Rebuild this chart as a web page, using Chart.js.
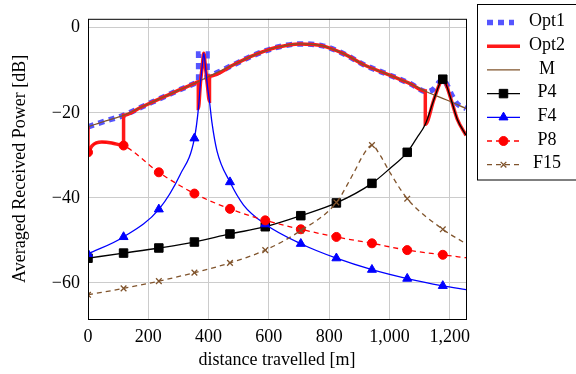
<!DOCTYPE html>
<html lang="en">
<head>
<meta charset="UTF-8">
<title>Averaged received power</title>
<script src="https://cdn.jsdelivr.net/npm/chart.js@4.4.1/dist/chart.umd.min.js"></script>
<style>
  body { margin: 0; background: #fff; }
</style>
</head>
<body>
<canvas id="myChart" width="576" height="374"></canvas>
<script>
// tick labels and marker positions
const X_TICKS = [0, 200, 400, 600, 800, 1000, 1200];
const Y_TICKS = [-60, -40, -20, 0];
const MARKER_D = [0, 118, 235, 353, 471, 588, 706, 824, 942, 1059, 1177];

// Opt1 - optimum (dotted)
const OPT1_D  = [0, 59, 118, 176, 235, 294, 353, 367, 367, 395, 395, 406, 483, 549, 627, 704, 775, 848, 915, 992, 1070, 1125, 1147, 1165, 1177, 1190, 1208, 1225, 1254];
const OPT1_DB = [-23.3, -21.9, -20.6, -18.7, -16.8, -14.9, -13.1, -12.6, -6.2, -6.2, -11.6, -11.3, -8.7, -6.5, -4.6, -3.8, -4.2, -6.1, -8.7, -10.9, -13.2, -15.1, -14.4, -12.8, -12.1, -13.3, -16.0, -17.9, -19.0];

// Opt2
const OPT2_D  = [0, 0, 13, 46, 79, 118, 118, 176, 235, 294, 353, 366, 366, 373, 379, 384, 390, 396, 403, 403, 483, 549, 627, 704, 775, 848, 915, 992, 1070, 1119, 1119, 1147, 1169, 1177, 1185, 1205, 1225, 1254];
const OPT2_DB = [-23.3, -29.3, -27.8, -26.9, -27.1, -27.7, -20.6, -18.7, -16.8, -14.9, -13.1, -12.7, -19.0, -13.0, -9.0, -6.0, -9.5, -13.5, -17.3, -11.4, -8.7, -6.5, -4.6, -3.8, -4.2, -6.1, -8.7, -10.9, -13.2, -14.9, -22.7, -17.0, -12.8, -12.1, -12.8, -17.0, -21.5, -25.3];

// M
const M_D  = [0, 59, 118, 176, 235, 294, 353, 406, 483, 549, 627, 704, 775, 848, 915, 992, 1070, 1125, 1190, 1254];
const M_DB = [-23.3, -21.9, -20.6, -18.7, -16.8, -14.9, -13.1, -11.3, -8.7, -6.5, -4.6, -3.8, -4.2, -6.1, -8.7, -10.9, -13.2, -15.1, -17.0, -19.0];

// P4
const P4_D  = [0, 118, 235, 353, 471, 588, 706, 824, 942, 1000, 1059, 1090, 1119, 1147, 1169, 1177, 1185, 1205, 1225, 1254];
const P4_DB = [-54.2, -53.0, -51.8, -50.4, -48.5, -46.8, -44.2, -41.2, -36.6, -33.2, -29.3, -26.0, -22.7, -17.0, -12.8, -12.1, -12.8, -17.0, -21.5, -25.3];

// F4
const F4_D  = [0, 118, 235, 306, 353, 367, 373, 379, 384, 390, 396, 403, 411, 428, 471, 516, 588, 706, 824, 942, 1059, 1177, 1254];
const F4_DB = [-53.2, -49.2, -42.7, -34.5, -26.0, -18.5, -13.0, -9.0, -6.0, -9.5, -13.5, -17.3, -22.2, -29.0, -36.3, -41.7, -46.2, -50.8, -54.2, -56.9, -59.0, -60.7, -61.6];

// P8
const P8_D  = [0, 13, 46, 79, 118, 235, 353, 471, 588, 706, 824, 942, 1059, 1177, 1254];
const P8_DB = [-29.3, -27.8, -26.9, -27.1, -27.7, -34.0, -39.0, -42.6, -45.3, -47.4, -49.2, -50.7, -52.3, -53.4, -54.1];

// F15
const F15_D  = [0, 118, 235, 353, 471, 588, 706, 824, 881, 915, 942, 970, 1003, 1059, 1177, 1254];
const F15_DB = [-62.8, -61.3, -59.6, -57.6, -55.3, -52.3, -47.7, -41.1, -34.2, -29.7, -27.6, -30.1, -34.2, -40.2, -47.4, -50.8];

const FONT = "'Liberation Serif', 'DejaVu Serif', serif";
const BROWN = 'rgb(128, 84, 44)';

function pts(ds, vs) {
    return ds.map(function (d, i) { return {x: d, y: vs[i]}; });
}
function markerRadius(r) {
    return function (ctx) {
        return ctx.raw && MARKER_D.indexOf(ctx.raw.x) >= 0 ? r : 0;
    };
}

// box around the plot area
const frame = {
    id: 'frame',
    afterDraw(chart) {
        const a = chart.chartArea, ctx = chart.ctx;
        ctx.save();
        ctx.strokeStyle = '#000';
        ctx.lineWidth = 1;
        ctx.strokeRect(a.left + 0.5, a.top + 0.5, a.right - a.left, a.bottom - a.top);
        ctx.restore();
    }
};

// legend in a box to the right
const boxLegend = {
    id: 'boxLegend',
    afterDraw(chart) {
        const ctx = chart.ctx;
        ctx.save();
        ctx.strokeStyle = '#000';
        ctx.lineWidth = 1;
        ctx.strokeRect(477.5, 4.5, 130, 175.5);
        chart.data.datasets.forEach(function (ds, i) {
            const y = 21.5 + i * 23.7;
            ctx.setLineDash(ds.borderDash || []);
            ctx.strokeStyle = ds.borderColor;
            ctx.lineWidth = ds.borderWidth;
            ctx.beginPath();
            ctx.moveTo(487, y + 1);
            ctx.lineTo(ds.label === 'Opt1' ? 514 : 520, y + 1);
            ctx.stroke();
            ctx.setLineDash([]);
            if (ds.legendRadius) {
                ctx.fillStyle = ds.pointBackgroundColor;
                ctx.strokeStyle = ds.pointBorderColor;
                ctx.lineWidth = ds.pointBorderWidth;
                Chart.helpers.drawPoint(ctx, {
                    pointStyle: ds.pointStyle, radius: ds.legendRadius,
                    borderWidth: ds.pointBorderWidth, rotation: 0
                }, 503.5, y + 1);
            }
            ctx.fillStyle = '#000';
            ctx.font = '18px ' + FONT;
            ctx.textAlign = 'center';
            ctx.textBaseline = 'middle';
            ctx.fillText(ds.label, 547, y);
        });
        ctx.restore();
    }
};

new Chart(document.getElementById('myChart').getContext('2d'), {
    type: 'line',
    data: {
        datasets: [
            { label: 'Opt1', data: pts(OPT1_D, OPT1_DB), borderColor: 'rgb(85, 85, 255)', borderWidth: 5.5,
              borderDash: [6, 5], borderCapStyle: 'butt', pointRadius: 0, order: 7 },
            { label: 'Opt2', data: pts(OPT2_D, OPT2_DB), borderColor: 'rgb(255, 25, 25)', borderWidth: 3.5,
              pointRadius: 0, order: 6 },
            { label: 'M', data: pts(M_D, M_DB), borderColor: BROWN, borderWidth: 1.2, pointRadius: 0, order: 5 },
            { label: 'P4', data: pts(P4_D, P4_DB), borderColor: '#000', borderWidth: 1.3,
              pointStyle: 'rect', pointRadius: markerRadius(6), legendRadius: 6,
              pointBackgroundColor: '#000', pointBorderColor: '#000', pointBorderWidth: 1, order: 4 },
            { label: 'F4', data: pts(F4_D, F4_DB), borderColor: '#0000ff', borderWidth: 1.3,
              pointStyle: 'triangle', pointRadius: markerRadius(5.2), legendRadius: 5.2,
              pointBackgroundColor: '#0000ff', pointBorderColor: '#0000ff', pointBorderWidth: 1, order: 3 },
            { label: 'P8', data: pts(P8_D, P8_DB), borderColor: '#ff0000', borderWidth: 1.3, borderDash: [5, 4],
              pointStyle: 'circle', pointRadius: markerRadius(4.5), legendRadius: 4.5,
              pointBackgroundColor: '#ff0000', pointBorderColor: '#ff0000', pointBorderWidth: 1, order: 2 },
            { label: 'F15', data: pts(F15_D, F15_DB), borderColor: BROWN, borderWidth: 1.3, borderDash: [5, 4],
              pointStyle: 'crossRot', pointRadius: markerRadius(4), legendRadius: 4,
              pointBackgroundColor: BROWN, pointBorderColor: BROWN, pointBorderWidth: 1.3, order: 1 }
        ]
    },
    options: {
        responsive: false,
        animation: false,
        events: [],
        layout: { padding: { left: 0, right: 110, top: 5, bottom: 0 } },
        elements: { line: { cubicInterpolationMode: 'monotone', fill: false } },
        plugins: { legend: { display: false }, tooltip: { enabled: false } },
        scales: {
            x: {
                type: 'linear', min: 0, max: 1254,
                afterBuildTicks: function (s) { s.ticks = X_TICKS.map(function (v) { return {value: v}; }); },
                afterFit: function (s) { s.height = 55; },
                grid: { color: '#cccccc', drawTicks: false },
                border: { display: false },
                ticks: { padding: 7, color: '#000', maxRotation: 0, font: { family: FONT, size: 18 },
                         callback: function (v) { return v.toLocaleString('en-US'); } },
                title: { display: true, text: 'distance travelled [m]', color: '#000',
                         font: { family: FONT, size: 18 }, padding: { top: 0, bottom: 3 } }
            },
            y: {
                type: 'linear', min: -68.5, max: 2.1,
                afterBuildTicks: function (s) { s.ticks = Y_TICKS.map(function (v) { return {value: v}; }); },
                afterFit: function (s) { s.width = 88; },
                grid: { color: '#cccccc', drawTicks: false },
                border: { display: false },
                ticks: { padding: 8, color: '#000', font: { family: FONT, size: 18 },
                         callback: function (v) { return v < 0 ? '\u2212' + Math.abs(v) : String(v); } },
                title: { display: true, text: 'Averaged Received Power [dB]', color: '#000',
                         font: { family: FONT, size: 18 }, padding: { top: 9, bottom: 0 } }
            }
        }
    },
    plugins: [frame, boxLegend]
});
</script>
</body>
</html>
